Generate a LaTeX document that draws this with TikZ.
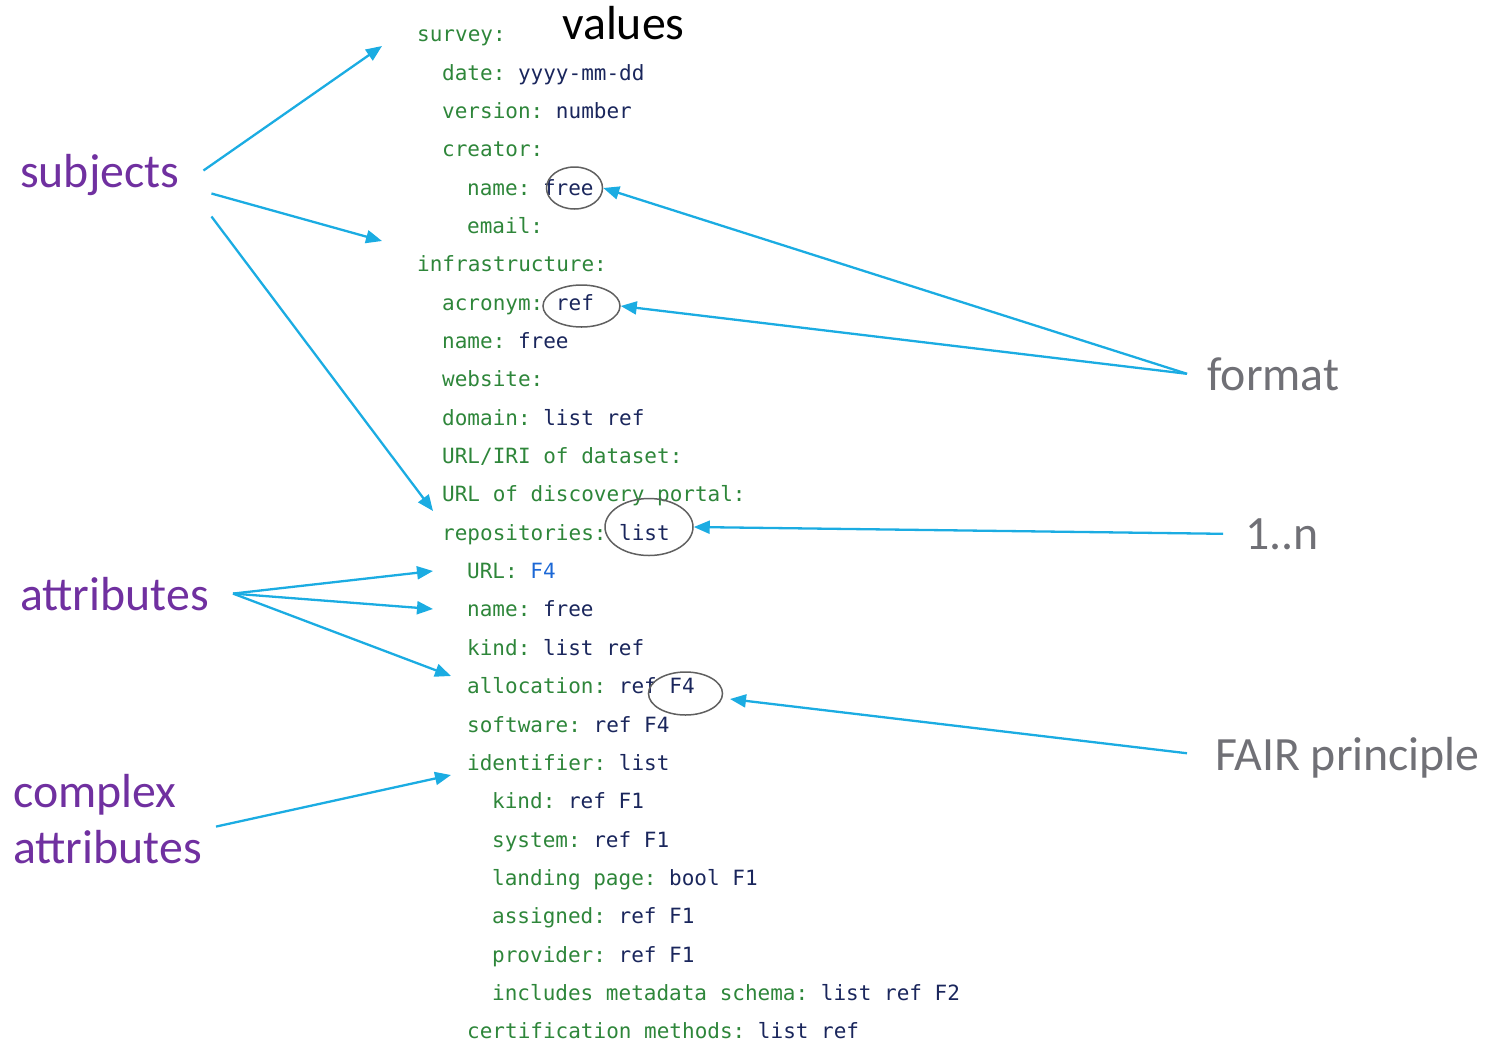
\documentclass[tikz,border=0pt]{standalone}
\usepackage{fontspec}
\setmainfont{Carlito}
\newfontfamily\codefont{DejaVu Sans Mono}
\usetikzlibrary{arrows.meta,shapes.geometric}

\definecolor{keygreen}{RGB}{46,134,58}
\definecolor{valnavy}{RGB}{26,38,92}
\definecolor{fairblue}{RGB}{28,104,214}
\definecolor{labpurple}{RGB}{112,48,160}
\definecolor{labgray}{RGB}{112,112,118}
\definecolor{arrowblue}{RGB}{27,172,226}
\definecolor{ringgray}{RGB}{96,96,96}

\newcommand{\ky}[1]{\textcolor{keygreen}{#1}}
\newcommand{\vl}[1]{\textcolor{valnavy}{#1}}
\frenchspacing

\begin{document}
\begin{tikzpicture}[x=1pt, y=-1pt,
    codeline/.style={anchor=base west, inner sep=0pt, font=\codefont\fontsize{21}{25}\selectfont},
    tag/.style={anchor=base west, inner sep=0pt, font=\fontsize{47.8}{56}\selectfont, text=labpurple},
    note/.style={anchor=base west, inner sep=0pt, font=\fontsize{47.8}{56}\selectfont, text=labgray},
    oval/.style={ellipse, draw=ringgray, line width=1.5pt, inner sep=0pt},
    link/.style={draw=arrowblue, line width=2.3pt, -{Triangle[length=16pt,width=13pt]}}]

    % page frame
    \useasboundingbox (0,0) rectangle (1486,1042);

    % the yaml template
    \node[codeline] (lsurvey)   at (417,41.7)   {\ky{survey:}};
    \node[codeline] (ldate)     at (442,80.05)  {\ky{date:} \vl{yyyy-mm-dd}};
    \node[codeline] (lversion)  at (442,118.4)  {\ky{version:} \vl{number}};
    \node[codeline] (lcreator)  at (442,156.75) {\ky{creator:}};
    \node[codeline] (lcname)    at (467,195.1)  {\ky{name:} \vl{free}};
    \node[codeline] (lemail)    at (467,233.45) {\ky{email:}};
    \node[codeline] (linfra)    at (417,271.8)  {\ky{infrastructure:}};
    \node[codeline] (lacronym)  at (442,310.15) {\ky{acronym:} \vl{ref}};
    \node[codeline] (liname)    at (442,348.5)  {\ky{name:} \vl{free}};
    \node[codeline] (lwebsite)  at (442,386.85) {\ky{website:}};
    \node[codeline] (ldomain)   at (442,425.2)  {\ky{domain:} \vl{list ref}};
    \node[codeline] (liri)      at (442,463.55) {\ky{URL/IRI of dataset:}};
    \node[codeline] (lportal)   at (442,501.9)  {\ky{URL of discovery portal:}};
    \node[codeline] (lrepos)    at (442,540.25) {\ky{repositories:} \vl{list}};
    \node[codeline] (lurl)      at (467,578.6)  {\ky{URL:} \textcolor{fairblue}{F4}};
    \node[codeline] (lrname)    at (467,616.95) {\ky{name:} \vl{free}};
    \node[codeline] (lkind)     at (467,655.3)  {\ky{kind:} \vl{list ref}};
    \node[codeline] (lalloc)    at (467,693.65) {\ky{allocation:} \vl{ref F4}};
    \node[codeline] (lsoft)     at (467,732)    {\ky{software:} \vl{ref F4}};
    \node[codeline] (lident)    at (467,770.35) {\ky{identifier:} \vl{list}};
    \node[codeline] (likind)    at (492,808.7)  {\ky{kind:} \vl{ref F1}};
    \node[codeline] (lsystem)   at (492,847.05) {\ky{system:} \vl{ref F1}};
    \node[codeline] (llanding)  at (492,885.4)  {\ky{landing page:} \vl{bool F1}};
    \node[codeline] (lassigned) at (492,923.75) {\ky{assigned:} \vl{ref F1}};
    \node[codeline] (lprovider) at (492,962.1)  {\ky{provider:} \vl{ref F1}};
    \node[codeline] (lschema)   at (492,1000.45){\ky{includes metadata schema:} \vl{list ref F2}};
    \node[codeline] (lcert)     at (467,1038.8) {\ky{certification methods:} \vl{list ref}};

    % rings round some values
    \node[oval, minimum width=56pt, minimum height=42pt] (ovfree) at (574.5,188) {};
    \node[oval, minimum width=77pt, minimum height=42pt] (ovacr)  at (581.5,306) {};
    \node[oval, minimum width=88pt, minimum height=57pt] (ovlist) at (649,527) {};
    \node[oval, minimum width=74pt, minimum height=43pt] (ovfour) at (685.5,693.5) {};

    % labels
    \node[anchor=base west, inner sep=0pt, font=\fontsize{47.8}{56}\selectfont] (vals) at (562,39) {values};
    \node[tag] (subj) at (20,187) {subjects};
    \node[tag] (attr) at (20,610) {attributes};
    \node[tag, align=left] (cplx) at (13,863) {complex\\attributes};
    \node[note] (fmt)  at (1207,390) {format};
    \node[note] (mult) at (1245,549) {1..n};
    \node[note] (fair) at (1215,770) {FAIR principle};

    % free ends
    \coordinate (tosurvey) at (382,46);
    \coordinate (toinfra)  at (382,241);
    \coordinate (torepos)  at (433,511);
    \coordinate (tourl)    at (433,571);
    \coordinate (toname)   at (433,609);
    \coordinate (toalloc)  at (451,676);
    \coordinate (toident)  at (451,775);
    \coordinate (tofour)   at (730,699);

    % subjects
    \draw[link] ([xshift=24pt,yshift=4pt]subj.east) -- (tosurvey);
    \draw[link] ([xshift=32pt,yshift=-19pt]subj.east) -- (toinfra);
    \draw[link] ([xshift=32pt,yshift=-42pt]subj.east) -- (torepos);

    % attributes
    \draw[link] ([xshift=24pt]attr.east) -- (tourl);
    \draw[link] ([xshift=24pt]attr.east) -- (toname);
    \draw[link] ([xshift=24pt]attr.east) -- (toalloc);
    \draw[link] ([xshift=14pt,yshift=-8pt]cplx.east) -- (toident);

    % format, 1..n, FAIR
    \draw[link] ([xshift=-20pt]fmt.west) -- (ovfree.east);
    \draw[link] ([xshift=-20pt]fmt.west) -- (ovacr.east);
    \draw[link] ([xshift=-22pt]mult.west) -- (ovlist.east);
    \draw[link] ([xshift=-28pt,yshift=4pt]fair.west) -- (tofour);
\end{tikzpicture}
\end{document}
